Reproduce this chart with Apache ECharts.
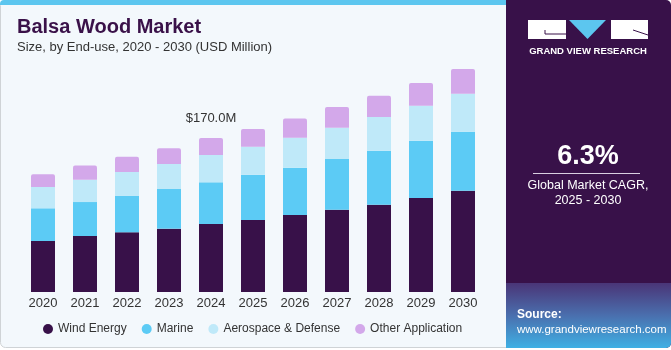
<!DOCTYPE html>
<html>
   <head>
      <meta charset="utf-8">
      <script type="text/javascript" src="https://cdn.jsdelivr.net/npm/echarts@6/dist/echarts.min.js"></script>
      <title>Balsa Wood Market</title>
      <style>
         html, body { margin: 0; padding: 0; background: #ffffff; }
      </style>
   </head>
   <body>
      <div id="chart" style="width:671px;height:350px"></div>
      <script type="text/javascript">
         // values in USD million
         var years = ["2020", "2021", "2022", "2023", "2024", "2025", "2026", "2027", "2028", "2029", "2030"];
         var windEnergy = [56.3, 61.8, 65.9, 69.9, 75.0, 79.5, 85.0, 90.8, 96.4, 103.8, 111.8];
         var marine = [36.1, 37.5, 40.1, 43.8, 46.0, 50.0, 52.2, 56.0, 59.6, 63.2, 65.1];
         var aerospace = [23.5, 24.6, 26.5, 27.6, 30.2, 30.9, 33.1, 34.5, 37.2, 38.6, 41.9];
         var otherApp = [14.0, 15.8, 16.9, 17.3, 18.8, 19.5, 21.3, 22.8, 23.5, 25.0, 27.3];
         var labelIndex = 4;
         var labelText = "$170.0M";

         var font = "Liberation Sans, Arial, sans-serif";
         var colors = ["#381149", "#5ccbf5", "#bfe9f9", "#d3a8ea"];

         var otherData = otherApp.map(function (v, i) {
            if (i == labelIndex) {
               return {
                  value: v,
                  label: {
                     show: true, position: "top", distance: 13,
                     formatter: labelText, fontSize: 13, color: "#333333", fontFamily: font
                  }
               };
            }
            return v;
         });

         function barSeries(name, data, idx) {
            return {
               name: name,
               type: "bar",
               stack: "total",
               barWidth: 24,
               data: data,
               itemStyle: { color: colors[idx], borderRadius: idx == 3 ? [2, 2, 0, 0] : 0 },
               emphasis: { disabled: true }
            };
         }

         var chart = echarts.init(document.getElementById("chart"), null, { renderer: "canvas" });
         chart.setOption({
            animation: false,
            backgroundColor: "#ffffff",
            textStyle: { fontFamily: font },
            grid: { left: 22, right: 187, top: 65.5, bottom: 58 },
            xAxis: {
               type: "category",
               data: years,
               axisLine: { show: false },
               axisTick: { show: false },
               axisLabel: { fontSize: 13, color: "#333333", margin: 5, fontFamily: font }
            },
            yAxis: {
               type: "value", min: 0, max: 250,
               show: false,
               splitLine: { show: false }
            },
            legend: {
               left: 38, top: 318,
               icon: "circle", itemWidth: 10, itemHeight: 10, itemGap: 15,
               textStyle: { fontSize: 12, color: "#333333", fontFamily: font },
               data: ["Wind Energy", "Marine", "Aerospace & Defense", "Other Application"]
            },
            graphic: [
               // chart panel
               { type: "rect", z: -10, shape: { x: 0.5, y: 0.5, width: 520, height: 347, r: 5 },
                 style: { fill: "#f3f8fc", stroke: "#cfd3d6", lineWidth: 1 } },
               { type: "rect", z: -9, shape: { x: 0, y: 0, width: 520, height: 5, r: [4, 4, 0, 0] },
                 style: { fill: "#5cc6ef" } },
               { type: "text", left: 17, top: 17,
                 style: { text: "Balsa Wood Market", fontSize: 20, fontWeight: "bold", fill: "#3a1149", fontFamily: font } },
               { type: "text", left: 17, top: 41,
                 style: { text: "Size, by End-use, 2020 - 2030 (USD Million)", fontSize: 13, fill: "#333333", fontFamily: font } },
               // right panel
               { type: "rect", z: -5, shape: { x: 506, y: 0, width: 165, height: 348, r: [0, 5, 5, 0] },
                 style: { fill: "#381149" } },
               { type: "rect", z: -4, shape: { x: 506, y: 283, width: 165, height: 65, r: [0, 0, 5, 0] },
                 style: { fill: { type: "linear", x: 0, y: 0, x2: 0, y2: 1,
                    colorStops: [{ offset: 0, color: "#4a3577" }, { offset: 0.5, color: "#4a6fae" }, { offset: 1, color: "#3fb0e4" }] } } },
               // logo
               { type: "rect", shape: { x: 528, y: 20, width: 38, height: 19 }, style: { fill: "#ffffff" } },
               { type: "polyline", shape: { points: [[545, 30], [545, 34], [566, 34]] }, style: { stroke: "#381149", lineWidth: 1, fill: null } },
               { type: "polygon", shape: { points: [[569, 20], [606, 20], [587.5, 39]] }, style: { fill: "#5cc6ef" } },
               { type: "rect", shape: { x: 611, y: 20, width: 37, height: 19 }, style: { fill: "#ffffff" } },
               { type: "line", shape: { x1: 633, y1: 30, x2: 648, y2: 35 }, style: { stroke: "#381149", lineWidth: 1 } },
               { type: "text", x: 588, y: 51,
                 style: { text: "GRAND VIEW RESEARCH", fontSize: 9.5, fontWeight: "bold", fill: "#ffffff", align: "center", verticalAlign: "middle", fontFamily: font } },
               // CAGR
               { type: "text", x: 588, y: 157,
                 style: { text: "6.3%", fontSize: 27, fontWeight: "bold", fill: "#ffffff", align: "center", verticalAlign: "middle", fontFamily: font } },
               { type: "line", shape: { x1: 533, y1: 173.5, x2: 640, y2: 173.5 }, style: { stroke: "#d8cfe0", lineWidth: 1 } },
               { type: "text", x: 588, y: 186,
                 style: { text: "Global Market CAGR,", fontSize: 12.5, fill: "#ffffff", align: "center", verticalAlign: "middle", fontFamily: font } },
               { type: "text", x: 588, y: 201,
                 style: { text: "2025 - 2030", fontSize: 12.5, fill: "#ffffff", align: "center", verticalAlign: "middle", fontFamily: font } },
               // source
               { type: "text", left: 517, top: 309,
                 style: { text: "Source:", fontSize: 12, fontWeight: "bold", fill: "#ffffff", fontFamily: font } },
               { type: "text", left: 517, top: 324,
                 style: { text: "www.grandviewresearch.com", fontSize: 11.5, fill: "#ffffff", fontFamily: font } }
            ],
            series: [
               barSeries("Wind Energy", windEnergy, 0),
               barSeries("Marine", marine, 1),
               barSeries("Aerospace & Defense", aerospace, 2),
               barSeries("Other Application", otherData, 3)
            ]
         });
      </script>
   </body>
</html>
